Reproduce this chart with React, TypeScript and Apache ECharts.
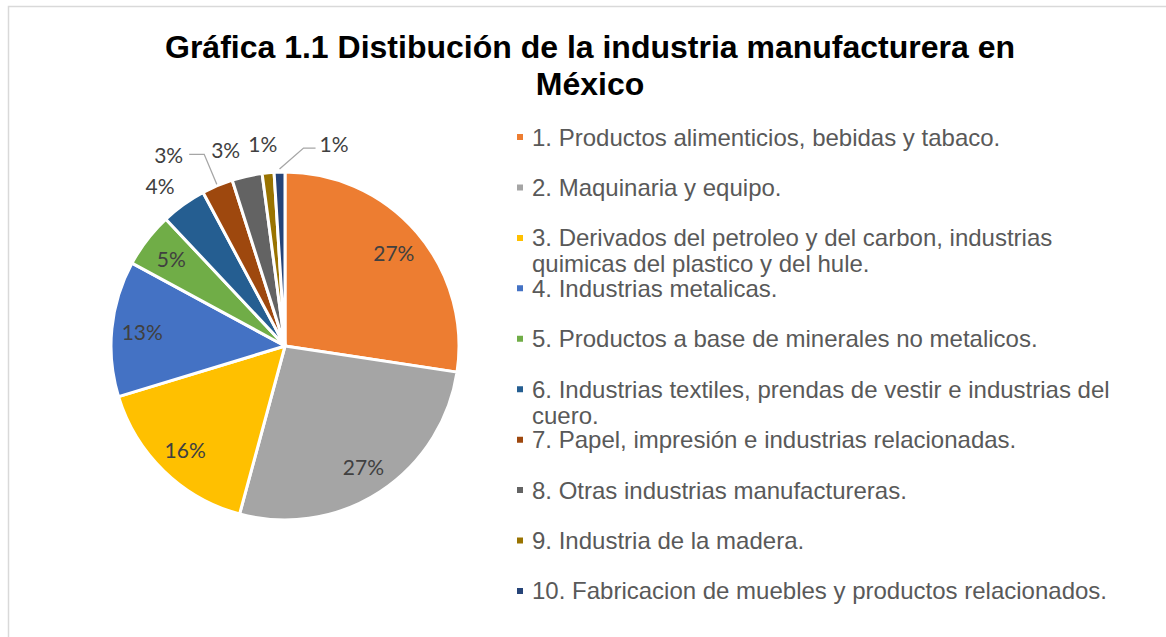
import React, { useEffect, useRef } from "react";
import * as echarts from "echarts";

const titleText = "Gráfica 1.1 Distibución de la industria manufacturera en\nMéxico";

const categories = [
  "1. Productos alimenticios, bebidas y tabaco.",
  "2. Maquinaria y equipo.",
  "3. Derivados del petroleo y del carbon, industrias quimicas del plastico y del hule.",
  "4. Industrias metalicas.",
  "5. Productos a base de minerales no metalicos.",
  "6. Industrias textiles, prendas de vestir e industrias del cuero.",
  "7. Papel, impresión e industrias relacionadas.",
  "8. Otras industrias manufactureras.",
  "9. Industria de la madera.",
  "10. Fabricacion de muebles y productos relacionados.",
];

const shares = [27.4, 26.8, 16.1, 12.6, 5.1, 4.2, 2.9, 2.8, 1.1, 1.0];

const colors = [
  "#ED7D31",
  "#A5A5A5",
  "#FFC000",
  "#4472C4",
  "#70AD47",
  "#255E91",
  "#9E480E",
  "#636363",
  "#997300",
  "#264478",
];

// labels placed inside the slice (the rest are outside)
const insideLabel = [true, true, true, true, true, false, false, false, false, false];

// outside-label styling per slice (index aligned with categories)
const outsideCfg: Record<number, any> = {
  5: { line: false, length: 24, length2: 0, dist: -5 },
  6: { line: true, length: 34, length2: 15, dist: 6 },
  7: { line: false, length: 27, length2: 0, dist: 1 },
  8: { line: false, length: 29, length2: 0, dist: -12 },
  9: { line: true, length: 26, length2: 0, dist: 4 },
};

const LEGEND_MAX_CHARS = 58;
const LEGEND_TOP = 125;
const LEGEND_STEP = 50.44;

const CX = 285;
const CY = 346;
const R = 174;

function wrapWords(text: string, maxChars: number): string[] {
  const words = text.split(" ");
  const lines: string[] = [];
  let cur = "";
  for (const w of words) {
    const next = cur ? cur + " " + w : w;
    if (next.length > maxChars && cur) {
      lines.push(cur);
      cur = w;
    } else {
      cur = next;
    }
  }
  if (cur) lines.push(cur);
  return lines;
}

export default function App() {
  const ref = useRef<HTMLDivElement>(null);

  useEffect(() => {
    if (!ref.current) return;
    const chart = echarts.init(ref.current, undefined, { renderer: "svg" });

    const pctFmt = (p: any) => Math.round(p.percent) + "%";

    const mainData = categories.map((name, i) => {
      const item: any = {
        name,
        value: shares[i],
        itemStyle: { color: colors[i] },
      };
      if (insideLabel[i]) {
        item.label = { show: false };
        item.labelLine = { show: false };
      } else {
        const c = outsideCfg[i];
        item.label = { show: true, position: "outside", distanceToLabelLine: c.dist };
        item.labelLine = { show: c.line, length: c.length, length2: c.length2 };
      }
      return item;
    });

    const overlayData = categories.map((name, i) => ({
      name,
      value: shares[i],
      label: { show: insideLabel[i] },
    }));

    const labelFont = {
      color: "#404040",
      fontSize: 21,
      fontFamily: "Lato, 'Noto Sans', sans-serif",
    };

    const legendFont = {
      color: "#595959",
      fontSize: 24,
      fontFamily: "'Liberation Sans', Arial, sans-serif",
    };

    const legends = categories.map((name, i) => ({
      orient: "vertical",
      left: 515,
      top: LEGEND_TOP + i * LEGEND_STEP,
      padding: 0,
      itemWidth: 8,
      itemHeight: 8,
      icon: "rect",
      selectedMode: false,
      data: [name],
      formatter: (n: string) => {
        const lines = wrapWords(n, LEGEND_MAX_CHARS);
        return lines
          .map((l, k) => (k === 0 ? "{a|" + l + "}" : "{b|" + l + "}"))
          .join("\n");
      },
      textStyle: {
        ...legendFont,
        padding: [0, 0, 0, 3],
        rich: {
          a: { ...legendFont, lineHeight: 28 },
          b: { ...legendFont, lineHeight: 0, verticalAlign: "top" },
        },
      },
    }));

    chart.setOption({
      animation: false,
      backgroundColor: "#ffffff",
      color: colors,
      graphic: [
        {
          type: "rect",
          silent: true,
          z: -10,
          shape: { x: 8.5, y: 6.5, width: 1300, height: 800 },
          style: { fill: "none", stroke: "#d9d9d9", lineWidth: 1.5 },
        },
      ],
      title: {
        text: titleText,
        left: 590,
        top: 28,
        padding: 0,
        textAlign: "center",
        textStyle: {
          fontFamily: "'Liberation Sans', Arial, sans-serif",
          fontWeight: "bold",
          fontSize: 32,
          lineHeight: 37,
          color: "#000000",
        },
      },
      legend: legends,
      series: [
        {
          type: "pie",
          center: [CX, CY],
          radius: [0, R],
          startAngle: 90,
          clockwise: true,
          avoidLabelOverlap: false,
          itemStyle: { borderColor: "#ffffff", borderWidth: 3 },
          emphasis: { disabled: true },
          label: { ...labelFont, formatter: pctFmt },
          labelLine: { lineStyle: { color: "#a6a6a6", width: 1.3 } },
          labelLayout: (params: any) => {
            if (params.dataIndex !== 9) return {};
            const pts = params.labelLinePoints;
            let p1: number[];
            if (pts && pts.length) p1 = pts[0];
            else p1 = [params.rect.x + params.rect.width / 2, params.rect.y];
            return {
              x: p1[0] + 40,
              y: p1[1] - 29,
              align: "left",
              verticalAlign: "middle",
              labelLinePoints: [
                [p1[0], p1[1] - 3],
                [p1[0] + 24, p1[1] - 24],
                [p1[0] + 36, p1[1] - 24],
              ],
            };
          },
          data: mainData,
        },
        {
          type: "pie",
          center: [CX, CY],
          radius: [107, R],
          startAngle: 90,
          clockwise: true,
          silent: true,
          avoidLabelOverlap: false,
          itemStyle: { color: "rgba(0,0,0,0)", borderWidth: 0 },
          emphasis: { disabled: true },
          label: { ...labelFont, position: "inside", formatter: pctFmt },
          labelLine: { show: false },
          data: overlayData,
        },
      ],
    });

    return () => chart.dispose();
  }, []);

  return (
    <div
      ref={ref}
      style={{ position: "fixed", left: 0, top: 0, width: 1166, height: 637 }}
    />
  );
}
